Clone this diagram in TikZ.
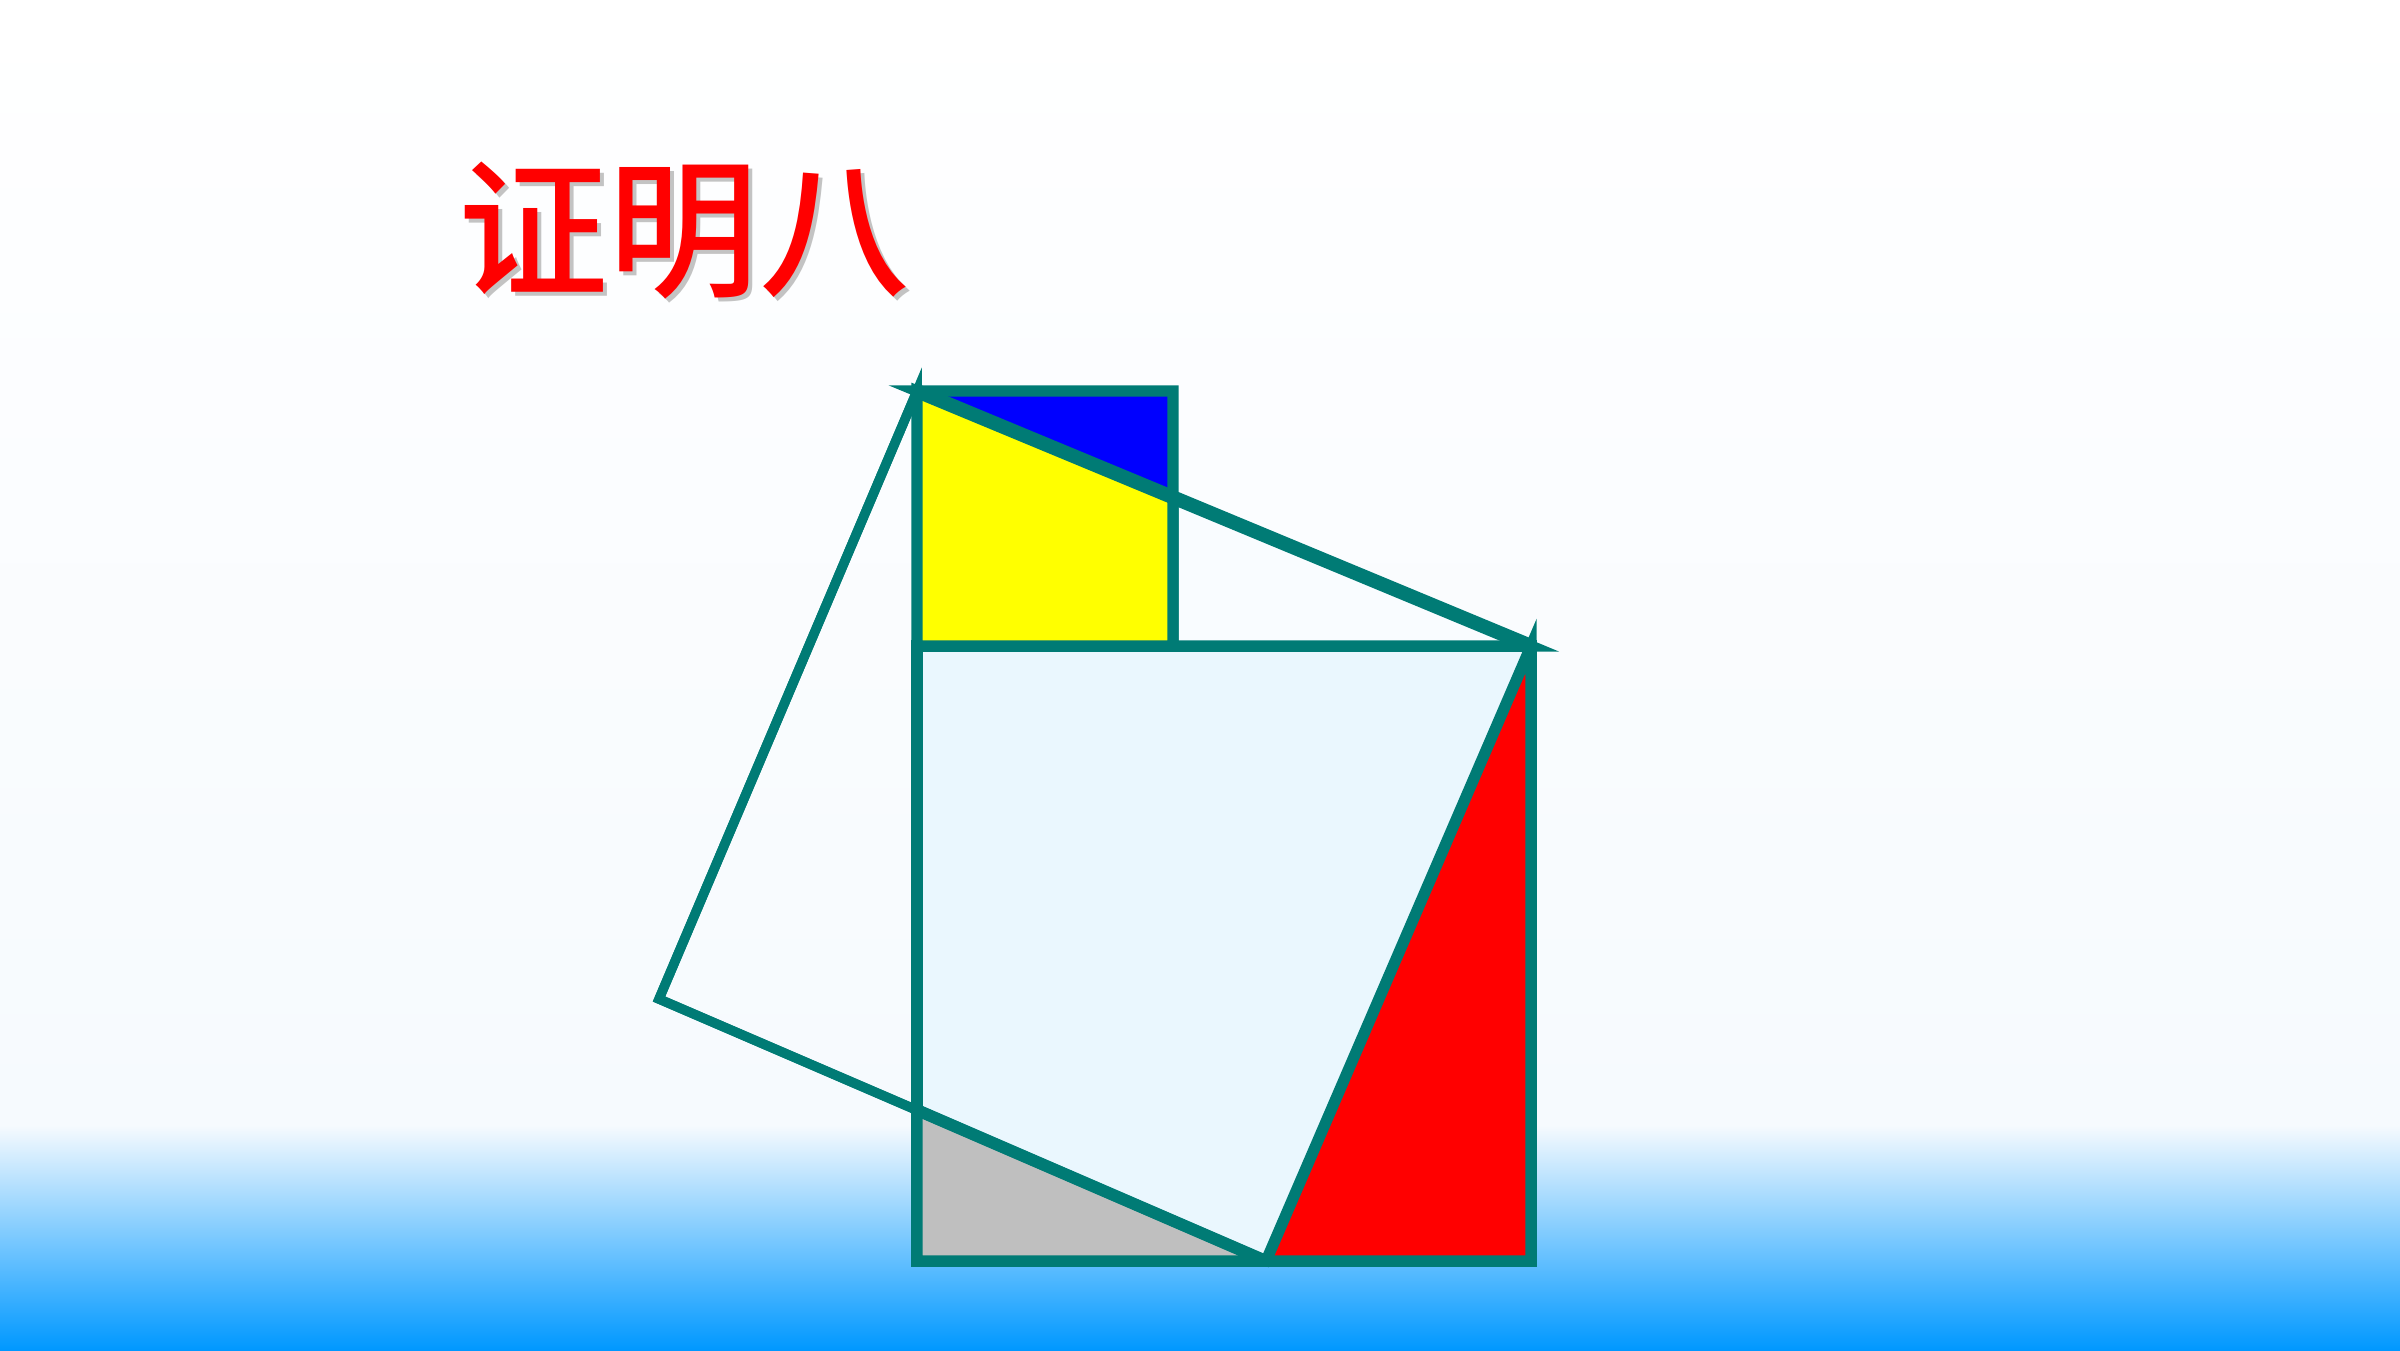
\documentclass[tikz,border=0pt]{standalone}
\usepackage{fontspec}
\newfontfamily\cjk{Noto Sans CJK SC Medium}
\definecolor{teal}{RGB}{0,123,117}
\definecolor{bgtop}{RGB}{255,255,255}
\definecolor{bgmid}{RGB}{246,250,254}
\definecolor{bgbot}{RGB}{0,152,255}
\definecolor{lightsq}{RGB}{234,247,254}
\definecolor{whitetri}{RGB}{249,252,255}
\definecolor{graytri}{RGB}{191,191,191}
\definecolor{yellowfill}{RGB}{255,255,0}
\definecolor{bluefill}{RGB}{0,0,255}
\definecolor{redfill}{RGB}{255,0,0}
\definecolor{titlered}{RGB}{255,0,0}
\definecolor{shadowgray}{RGB}{195,195,195}
\tikzset{
  edge/.style={draw=teal, line width=3.2pt, line join=miter, miter limit=10},
  thinedge/.style={draw=teal, line width=2.7pt, line join=miter, miter limit=10},
  thickedge/.style={draw=teal, line width=4pt, line join=miter},
  titletext/.style={font=\cjk\fontsize{42.7pt}{50pt}\selectfont, inner sep=0pt, anchor=base west},
}
\begin{document}
\begin{tikzpicture}[x=0.01cm, y=-0.01cm]
\useasboundingbox (0,0) rectangle (2400,1350);
% background
\shade[top color=bgtop, bottom color=bgmid] (0,0) rectangle (2400,1126);
\shade[top color=bgmid, bottom color=bgbot] (0,1125) rectangle (2400,1350);
% key points
\coordinate (A) at (917,391);
\coordinate (B) at (1531,646);
\coordinate (C) at (1266,1261);
\coordinate (D) at (659,999);
\coordinate (S2) at (1173,391);
\coordinate (P) at (1173,497);
\coordinate (S3) at (1173,646);
\coordinate (E) at (917,646);
\coordinate (Q) at (917,1110);
\coordinate (F) at (917,1261);
\coordinate (G) at (1531,1261);
% big square
\path[edge, fill=lightsq] (E) -- (B) -- (G) -- (F) -- cycle;
% triangle left of big square
\path[thinedge] (A) -- (D) -- (Q) -- cycle;
% triangle right of small square
\path[edge, fill=whitetri] (P) -- (B) -- (S3) -- cycle;
% blue triangle
\path[edge, fill=bluefill] (A) -- (S2) -- (P) -- cycle;
% yellow region
\path[edge, fill=yellowfill] (A) -- (P) -- (S3) -- (E) -- cycle;
% gray triangle
\path[edge, fill=graytri] (Q) -- (F) -- (C) -- cycle;
% red triangle
\path[edge, fill=redfill] (B) -- (G) -- (C) -- cycle;
% tilted square
\path[thinedge] (A) -- (B) -- (C) -- (D) -- cycle;
\draw[thickedge] (A) -- (B);
\draw[thickedge, line width=3.4pt] (Q) -- (C);
% title
\node[titletext, text=shadowgray] (titleshadow) at (462,289) {证明八};
\node[titletext, text=titlered] (title) at (458,285) {证明八};
\end{tikzpicture}
\end{document}
